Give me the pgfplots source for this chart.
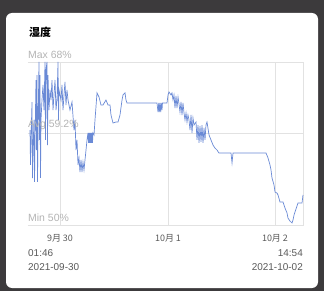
\documentclass[border=0pt]{standalone}
\usepackage{pgfplots}
\pgfplotsset{compat=1.18}
\usepackage{fontspec}
\setmainfont{Liberation Sans}
\newfontfamily\cjk{Noto Sans CJK SC}
\definecolor{bgdark}{HTML}{3C3A3C}
\definecolor{gridc}{HTML}{E2E2E2}
\definecolor{linec}{HTML}{6A8AD6}
\definecolor{lblc}{HTML}{B4B4B4}
\definecolor{tickc}{HTML}{5A5A5A}
\begin{document}
\begin{tikzpicture}[x=1bp,y=1bp]
\path[use as bounding box,fill=bgdark] (0,0) rectangle (324,291);
\fill[white,rounded corners=6bp] (6,3) rectangle (318,278);
\node[anchor=west,inner sep=0pt] at (29,259) {\cjk\bfseries\fontsize{11}{12}\selectfont 湿度};
\begin{axis}[
  at={(28bp,66bp)}, anchor=south west,
  width=275bp, height=163bp, scale only axis,
  xmin=0, xmax=61.57, ymin=50, ymax=68,
  axis lines=none,
  clip=false,
  xtick=\empty, ytick=\empty,
]
\draw[gridc, line width=0.6pt] (axis cs:7.16,50) -- (axis cs:7.16,68);
\draw[gridc, line width=0.6pt] (axis cs:31.35,50) -- (axis cs:31.35,68);
\draw[gridc, line width=0.6pt] (axis cs:55.30,50) -- (axis cs:55.30,68);
\draw[gridc, line width=0.6pt] (axis cs:61.57,50) -- (axis cs:61.57,68);
\draw[gridc, line width=0.6pt] (axis cs:0,50) -- (axis cs:61.8,50);
\draw[gridc, line width=0.6pt] (axis cs:0,68) -- (axis cs:61.8,68);
\draw[gridc, line width=0.6pt] (axis cs:0,60.1) -- (axis cs:61.8,60.1);
\addplot[linec, line width=0.7pt] table {
x y
0.45 60.49
0.56 56.63
0.67 59.39
0.90 63.58
1.01 55.19
1.12 58.28
1.34 61.60
1.46 54.75
1.57 59.39
1.79 66.01
1.90 58.28
2.02 66.56
2.13 54.75
2.24 60.49
2.46 68.00
2.57 59.39
2.69 66.56
2.80 55.20
2.91 61.60
3.13 63.80
3.36 65.46
3.58 62.70
3.81 68.00
3.92 59.39
4.03 67.12
4.25 68.00
4.37 58.83
4.48 66.56
4.70 62.70
4.93 64.91
5.15 63.80
5.37 66.01
5.60 62.70
5.82 64.36
6.05 66.01
6.27 62.70
6.49 63.80
6.72 68.00
6.83 61.60
6.94 64.91
7.39 63.80
7.61 65.46
7.84 62.70
8.06 64.36
8.28 65.79
8.51 63.25
8.73 64.91
8.96 63.80
9.40 62.70
9.85 63.58
10.30 60.49
10.52 61.60
10.75 58.28
10.97 59.39
11.20 56.63
11.42 57.40
11.64 55.85
11.87 57.18
12.09 55.85
12.31 56.96
12.54 56.07
12.76 57.18
12.99 58.28
13.21 59.39
13.43 60.16
13.55 59.06
13.66 60.16
13.77 59.06
13.88 60.16
14.00 59.06
14.11 60.16
14.22 59.06
14.33 60.16
14.44 59.06
14.55 60.16
14.78 59.94
15.00 61.60
15.45 64.58
15.90 64.13
16.34 63.25
16.79 63.25
17.46 63.80
17.91 63.25
18.36 63.25
18.58 62.15
19.03 61.26
19.70 61.37
20.15 61.37
20.60 62.15
21.05 63.80
21.27 64.36
21.72 64.58
21.94 63.80
22.17 63.47
28.88 63.47
29.11 62.48
29.27 63.47
29.40 62.48
29.55 63.47
29.71 62.48
29.85 63.47
30.00 62.70
30.11 63.47
31.12 63.47
31.35 64.36
31.57 64.69
32.02 64.36
32.24 64.58
32.47 63.80
32.69 64.36
32.91 62.92
33.14 64.25
33.36 62.92
33.59 64.13
33.81 63.36
34.03 62.48
34.26 63.58
34.48 62.15
34.70 63.47
34.93 62.37
35.15 61.60
35.38 62.37
35.60 61.37
35.82 62.15
36.05 61.60
36.27 60.49
36.50 62.15
36.72 60.16
36.94 61.82
37.17 61.04
37.62 61.37
37.84 59.39
38.06 61.04
38.29 59.06
38.51 60.93
38.74 59.17
38.96 61.04
39.18 59.06
39.41 60.71
39.63 59.39
39.85 61.04
40.08 61.37
40.53 59.94
40.97 59.39
41.42 58.83
41.87 58.50
42.32 58.28
42.76 57.95
45.45 57.95
45.68 56.85
45.90 57.95
53.29 57.95
53.74 57.40
54.18 56.63
54.41 56.07
54.63 55.19
55.08 54.42
55.30 53.64
55.75 53.53
55.98 53.31
56.42 52.54
57.09 52.54
57.54 51.88
57.99 51.33
58.21 50.77
58.66 50.44
59.11 50.22
59.33 50.55
59.56 51.10
59.78 51.44
60.23 52.10
60.45 52.43
61.35 52.43
61.57 53.31
};
\node[anchor=south west,inner sep=0pt,text=lblc,font=\fontsize{10.5}{12}\selectfont] at (axis cs:0,68.35) {Max 68\%};
\node[anchor=south west,inner sep=0pt,text=lblc,font=\fontsize{10.5}{12}\selectfont] at (axis cs:0,60.45) {Avg 59.2\%};
\node[anchor=south west,inner sep=0pt,text=lblc,font=\fontsize{10.5}{12}\selectfont] at (axis cs:0,50.35) {Min 50\%};
\node[text=tickc,inner sep=0pt,font=\cjk\fontsize{9}{10}\selectfont] at (axis cs:7.16,48.55) {9月 30};
\node[text=tickc,inner sep=0pt,font=\cjk\fontsize{9}{10}\selectfont] at (axis cs:31.35,48.55) {10月 1};
\node[text=tickc,inner sep=0pt,font=\cjk\fontsize{9}{10}\selectfont] at (axis cs:55.30,48.55) {10月 2};
\node[anchor=west,text=tickc,inner sep=0pt,font=\fontsize{10}{11}\selectfont] at (axis cs:0,46.85) {01:46};
\node[anchor=west,text=tickc,inner sep=0pt,font=\fontsize{10}{11}\selectfont] at (axis cs:0,45.3) {2021-09-30};
\node[anchor=east,text=tickc,inner sep=0pt,font=\fontsize{10}{11}\selectfont] at (axis cs:61.57,46.85) {14:54};
\node[anchor=east,text=tickc,inner sep=0pt,font=\fontsize{10}{11}\selectfont] at (axis cs:61.57,45.3) {2021-10-02};
\end{axis}
\end{tikzpicture}
\end{document}
